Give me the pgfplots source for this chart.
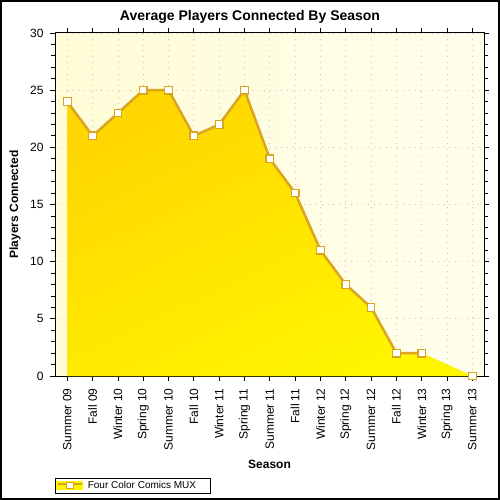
\documentclass[border=0pt]{standalone}
\usepackage{pgfplots}
\pgfplotsset{compat=1.18}
\usepackage{fontspec}
\setmainfont{Liberation Sans}
\definecolor{lineC}{RGB}{218,165,32}
\definecolor{areaTop}{RGB}{255,214,0}
\definecolor{areaBot}{RGB}{255,245,0}
\definecolor{bgL}{RGB}{255,252,214}
\definecolor{bgR}{RGB}{255,254,236}
\begin{document}
\begin{tikzpicture}[x=1pt,y=1pt]
\fill[white] (0,0) rectangle (500,500);
\draw[line width=2pt] (1,1) rectangle (499,499);
\node[font=\fontsize{14}{16}\selectfont\bfseries] at (250,483) {Average Players Connected By Season};
\begin{axis}[
  at={(55pt,124pt)}, anchor=south west,
  scale only axis, width=429pt, height=343pt,
  xmin=-0.486, xmax=16.46, ymin=0, ymax=30,
  xtick={0,...,16},
  xticklabels={Summer 09,Fall 09,Winter 10,Spring 10,Summer 10,Fall 10,Winter 11,Spring 11,Summer 11,Fall 11,Winter 12,Spring 12,Summer 12,Fall 12,Winter 13,Spring 13,Summer 13},
  x tick label style={rotate=90, anchor=east, font=\fontsize{12}{14}\selectfont},
  xticklabel shift=4pt, yticklabel shift=3pt,
  ytick={0,5,...,30}, minor y tick num=4,
  y tick label style={font=\fontsize{12}{14}\selectfont},
  /pgf/number format/assume math mode=true,
  tick align=outside, major tick length=5pt, minor tick length=4pt,
  tick style={black, line width=0.8pt},
  axis line style={line width=1pt},
  grid=major, grid style={gray!45, line width=0.8pt, dash pattern=on 0.8pt off 5pt},
  axis background/.style={left color=bgL, right color=bgR},
  xlabel={Season}, ylabel={Players Connected},
  label style={font=\fontsize{12}{14}\selectfont\bfseries},
  xlabel style={at={(axis description cs:0.5,-0.259)}, anchor=center},
  ylabel style={at={(axis description cs:-0.0932,0.5)}, anchor=center},
  legend style={at={(axis description cs:0,-0.297)}, anchor=north west, draw=black, line width=0.6pt, font=\fontsize{10}{12}\selectfont, inner sep=1pt, row sep=0pt, column sep=3pt},
  legend cell align=left,
  legend image code/.code={
    \fill[areaBot] (0pt,-3pt) rectangle (24pt,3pt);
    \draw[lineC, line width=2pt] (0pt,1.5pt) -- (24pt,1.5pt);
    \draw[lineC, line width=1pt, fill=white] (8.5pt,-3pt) rectangle (15.5pt,3pt);
  },
]
\addplot[draw=none, fill=areaTop, top color=areaTop, bottom color=areaBot, shading angle=25, forget plot] table {
x y
0 24
1 21
2 23
3 25
4 25
5 21
6 22
7 25
8 19
9 16
10 11
11 8
12 6
13 2
14 2
16 0
} \closedcycle;
\addplot[lineC, line width=2.5pt, unbounded coords=jump, mark=square*, mark size=3.8pt, mark options={fill=white, draw=lineC, line width=1.2pt}] table {
x y
0 24
1 21
2 23
3 25
4 25
5 21
6 22
7 25
8 19
9 16
10 11
11 8
12 6
13 2
14 2
15 nan
16 0
};
\addlegendentry{Four Color Comics MUX\rule{11pt}{0pt}}
\end{axis}
\end{tikzpicture}
\end{document}
